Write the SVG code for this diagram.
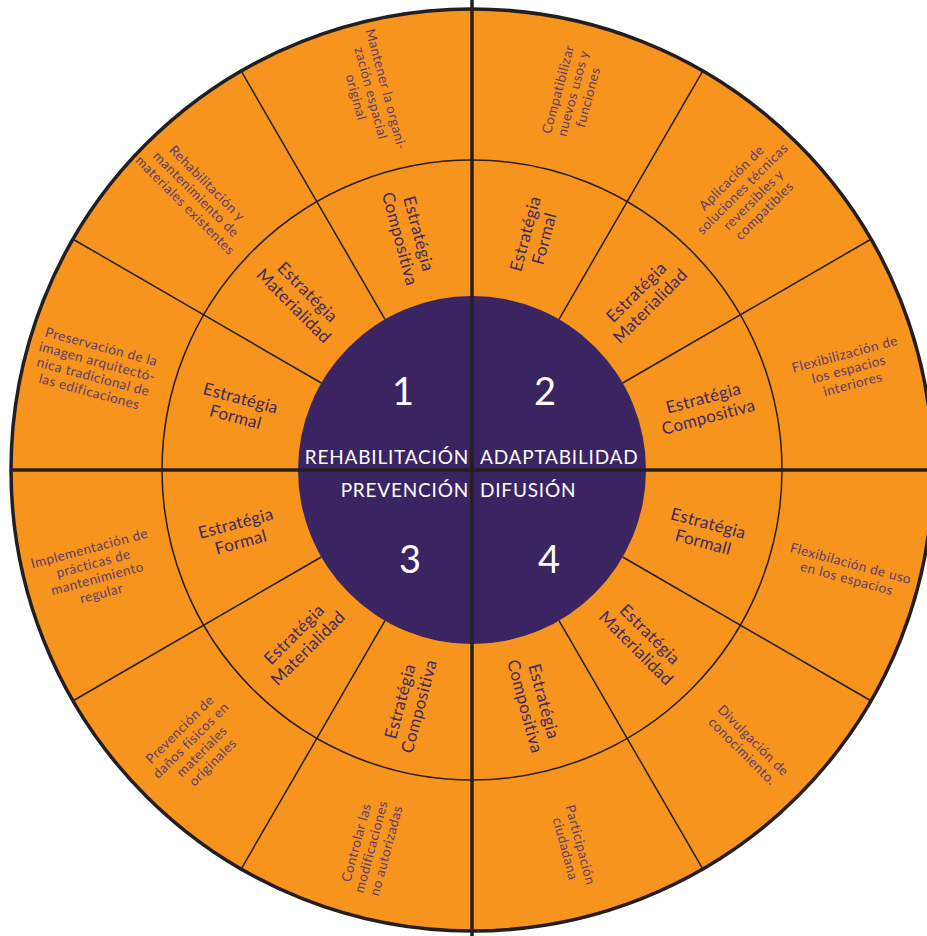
<svg xmlns="http://www.w3.org/2000/svg" width="927" height="936" viewBox="0 0 927 936">
<style>
.ring{fill:#F7941E}
.outer{font-family:Lato,"Noto Sans",sans-serif;font-size:13.5px;letter-spacing:0.45px;fill:#5a3d6e;text-anchor:middle}
.mid{font-family:Lato,"Noto Sans",sans-serif;font-size:17px;letter-spacing:0.3px;fill:#3e2a63;text-anchor:middle}
.ctr{font-family:Lato,"Noto Sans",sans-serif;font-size:19px;letter-spacing:0.8px;fill:#ffffff}
.num{font-family:Lato,"Noto Sans",sans-serif;font-size:38px;fill:#ffffff;text-anchor:middle}
.thin{stroke:#231f20;stroke-width:1.5;fill:none}
.thick{stroke:#231f20;stroke-width:3.5;fill:none}
</style>
<rect width="927" height="936" fill="#ffffff"/>
<g id="wheel">
<circle class="ring" cx="472" cy="470" r="461"/>
</g>
<g id="connectors">
<circle class="thin" cx="472" cy="470" r="310"/>
<line class="thin" x1="385" y1="319.3" x2="241" y2="70.7"/>
<line class="thin" x1="321.3" y1="383" x2="72.7" y2="239"/>
<line class="thin" x1="559" y1="319.3" x2="703" y2="70.7"/>
<line class="thin" x1="622.7" y1="383" x2="871.3" y2="239"/>
<line class="thin" x1="321.3" y1="557" x2="72.7" y2="701"/>
<line class="thin" x1="385" y1="620.7" x2="241" y2="869.3"/>
<line class="thin" x1="622.7" y1="557" x2="871.3" y2="701"/>
<line class="thin" x1="559" y1="620.7" x2="703" y2="869.3"/>
</g>
<g id="center">
<circle cx="472" cy="470" r="174" fill="#3b2462"/>
</g>
<g id="axes">
<circle class="thick" cx="472" cy="470" r="461" stroke-width="4"/>
<line class="thick" x1="472" y1="0" x2="472" y2="936"/>
<line class="thick" x1="10" y1="470" x2="927" y2="470"/>
</g>
<g id="q1">
<text class="num" x="403" y="405">1</text>
<text class="ctr" x="469" y="464" text-anchor="end">REHABILITACIÓN</text>
</g>
<g id="q2">
<text class="num" x="545" y="405">2</text>
<text class="ctr" x="480" y="464">ADAPTABILIDAD</text>
</g>
<g id="q3">
<text class="num" x="410" y="573">3</text>
<text class="ctr" x="469" y="497" text-anchor="end">PREVENCIÓN</text>
</g>
<g id="q4">
<text class="num" x="549" y="573">4</text>
<text class="ctr" x="480" y="497">DIFUSIÓN</text>
</g>
<g id="m1a"><text class="mid" transform="translate(409.4,236.2) rotate(75)"><tspan x="0" y="-3.75">Estratégia</tspan><tspan x="0" y="15.75">Compositiva</tspan></text></g>
<g id="m1b"><text class="mid" transform="translate(300.9,298.9) rotate(45)"><tspan x="0" y="-3.75">Estratégia</tspan><tspan x="0" y="15.75">Materialidad</tspan></text></g>
<g id="m1c"><text class="mid" transform="translate(238.2,407.4) rotate(15)"><tspan x="0" y="-3.75">Estratégia</tspan><tspan x="0" y="15.75">Formal</tspan></text></g>
<g id="m2a"><text class="mid" transform="translate(534.6,236.2) rotate(-75)"><tspan x="0" y="-3.75">Estratégia</tspan><tspan x="0" y="15.75">Formal</tspan></text></g>
<g id="m2b"><text class="mid" transform="translate(643.1,298.9) rotate(-45)"><tspan x="0" y="-3.75">Estratégia</tspan><tspan x="0" y="15.75">Materialidad</tspan></text></g>
<g id="m2c"><text class="mid" transform="translate(705.8,407.4) rotate(-15)"><tspan x="0" y="-3.75">Estratégia</tspan><tspan x="0" y="15.75">Compositiva</tspan></text></g>
<g id="m3a"><text class="mid" transform="translate(238.2,532.6) rotate(-15)"><tspan x="0" y="-3.75">Estratégia</tspan><tspan x="0" y="15.75">Formal</tspan></text></g>
<g id="m3b"><text class="mid" transform="translate(300.9,641.1) rotate(-45)"><tspan x="0" y="-3.75">Estratégia</tspan><tspan x="0" y="15.75">Materialidad</tspan></text></g>
<g id="m3c"><text class="mid" transform="translate(409.4,703.8) rotate(-75)"><tspan x="0" y="-3.75">Estratégia</tspan><tspan x="0" y="15.75">Compositiva</tspan></text></g>
<g id="m4a"><text class="mid" transform="translate(705.8,532.6) rotate(15)"><tspan x="0" y="-3.75">Estratégia</tspan><tspan x="0" y="15.75">Formall</tspan></text></g>
<g id="m4b"><text class="mid" transform="translate(643.1,641.1) rotate(45)"><tspan x="0" y="-3.75">Estratégia</tspan><tspan x="0" y="15.75">Materialidad</tspan></text></g>
<g id="m4c"><text class="mid" transform="translate(534.6,703.8) rotate(75)"><tspan x="0" y="-3.75">Estratégia</tspan><tspan x="0" y="15.75">Compositiva</tspan></text></g>
<g id="o1a"><text class="outer" transform="translate(371.1,93.3) rotate(75)"><tspan x="0" y="-10.8">Mantener la organi-</tspan><tspan x="0" y="4.7">zación espacial</tspan><tspan x="0" y="20.2">original</tspan></text></g>
<g id="o1b"><text class="outer" transform="translate(196.2,194.2) rotate(45)"><tspan x="0" y="-10.8">Rehabilitación y</tspan><tspan x="0" y="4.7">mantenimiento de</tspan><tspan x="0" y="20.2">materiales existentes</tspan></text></g>
<g id="o1c"><text class="outer" transform="translate(95.3,369.1) rotate(15)"><tspan x="0" y="-18.55">Preservación de la</tspan><tspan x="0" y="-3.05">imagen arquitectó-</tspan><tspan x="0" y="12.45">nica tradicional de</tspan><tspan x="0" y="27.95">las edificaciones</tspan></text></g>
<g id="o2a"><text class="outer" transform="translate(572.9,93.3) rotate(-75)"><tspan x="0" y="-10.8">Compatibilizar</tspan><tspan x="0" y="4.7">nuevos usos y</tspan><tspan x="0" y="20.2">funciones</tspan></text></g>
<g id="o2b"><text class="outer" transform="translate(747.8,194.2) rotate(-45)"><tspan x="0" y="-18.55">Aplicación de</tspan><tspan x="0" y="-3.05">soluciones técnicas</tspan><tspan x="0" y="12.45">reversibles y</tspan><tspan x="0" y="27.95">compatibles</tspan></text></g>
<g id="o2c"><text class="outer" transform="translate(848.7,369.1) rotate(-15)"><tspan x="0" y="-10.8">Flexibilización de</tspan><tspan x="0" y="4.7">los espacios</tspan><tspan x="0" y="20.2">interiores</tspan></text></g>
<g id="o3a"><text class="outer" transform="translate(95.3,570.9) rotate(-15)"><tspan x="0" y="-18.55">Implementación de</tspan><tspan x="0" y="-3.05">prácticas de</tspan><tspan x="0" y="12.45">mantenimiento</tspan><tspan x="0" y="27.95">regular</tspan></text></g>
<g id="o3b"><text class="outer" transform="translate(196.2,745.8) rotate(-45)"><tspan x="0" y="-18.55">Prevención de</tspan><tspan x="0" y="-3.05">daños físicos en</tspan><tspan x="0" y="12.45">materiales</tspan><tspan x="0" y="27.95">originales</tspan></text></g>
<g id="o3c"><text class="outer" transform="translate(371.1,846.7) rotate(-75)"><tspan x="0" y="-10.8">Controlar las</tspan><tspan x="0" y="4.7">modificaciones</tspan><tspan x="0" y="20.2">no autorizadas</tspan></text></g>
<g id="o4a"><text class="outer" transform="translate(848.7,570.9) rotate(15)"><tspan x="0" y="-3.05">Flexibilación de uso</tspan><tspan x="0" y="12.45">en los espacios</tspan></text></g>
<g id="o4b"><text class="outer" transform="translate(747.8,745.8) rotate(45)"><tspan x="0" y="-3.05">Divulgación de</tspan><tspan x="0" y="12.45">conocimiento.</tspan></text></g>
<g id="o4c"><text class="outer" transform="translate(572.9,846.7) rotate(75)"><tspan x="0" y="-3.05">Participación</tspan><tspan x="0" y="12.45">ciudadana</tspan></text></g>
</svg>
